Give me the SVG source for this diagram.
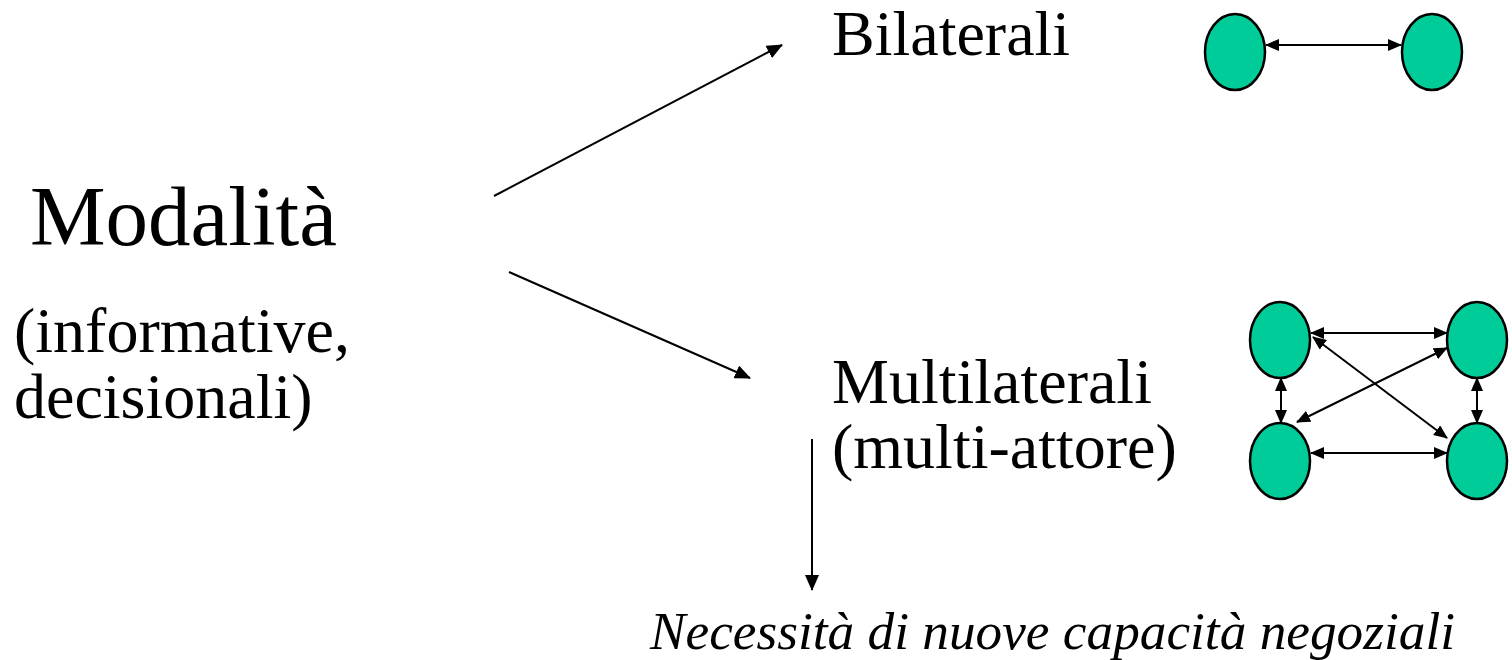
<svg xmlns="http://www.w3.org/2000/svg" width="1512" height="660" viewBox="0 0 1512 660">
<style>
text{font-family:'Liberation Serif','Times New Roman',serif;fill:#000}
.n{fill:#00CC99;stroke:#000;stroke-width:2.5}
.c{stroke:#000;stroke-width:2;fill:none}
</style>
<defs>
<marker id="ah" markerUnits="userSpaceOnUse" markerWidth="16" markerHeight="14" refX="15" refY="7" orient="auto-start-reverse" viewBox="0 0 16 14">
<path d="M0,0 L16,7 L0,14 Z" fill="#000"/>
</marker>
<marker id="sh" markerUnits="userSpaceOnUse" markerWidth="14" markerHeight="12" refX="13" refY="6" orient="auto-start-reverse" viewBox="0 0 14 12">
<path d="M0,0 L14,6 L0,12 Z" fill="#000"/>
</marker>
</defs>
<rect width="1512" height="660" fill="#fff"/>
<g id="modalita">
<text x="30" y="245" font-size="85">Modalità</text>
<text x="14" y="352" font-size="64">(informative,</text>
<text x="14" y="418" font-size="64">decisionali)</text>
</g>
<g id="bilaterali">
<text x="832" y="55" font-size="64">Bilaterali</text>
</g>
<g id="multilaterali">
<text x="832" y="403" font-size="64">Multilaterali</text>
<text x="832" y="468" font-size="64">(multi-attore)</text>
</g>
<g id="necessita">
<text x="650" y="649" font-size="52" font-style="italic" textLength="805" lengthAdjust="spacingAndGlyphs">Necessità di nuove capacità negoziali</text>
</g>
<g id="bi-nodes">
<ellipse class="n" cx="1235" cy="52" rx="30" ry="38"/>
<ellipse class="n" cx="1432" cy="52" rx="30" ry="38"/>
</g>
<g id="multi-nodes">
<ellipse class="n" cx="1280" cy="340" rx="30" ry="38"/>
<ellipse class="n" cx="1477" cy="340" rx="30" ry="38"/>
<ellipse class="n" cx="1280" cy="461" rx="30" ry="38"/>
<ellipse class="n" cx="1477" cy="461" rx="30" ry="38"/>
</g>
<g id="connectors">
<line class="c" x1="494" y1="196" x2="782" y2="45" marker-end="url(#ah)"/>
<line class="c" x1="509" y1="272" x2="750" y2="378" marker-end="url(#ah)"/>
<line class="c" x1="812" y1="439" x2="812" y2="590" marker-end="url(#ah)"/>
<line class="c" x1="1266" y1="45" x2="1401" y2="45" marker-start="url(#sh)" marker-end="url(#sh)"/>
<line class="c" x1="1311" y1="333" x2="1447" y2="333" marker-start="url(#sh)" marker-end="url(#sh)"/>
<line class="c" x1="1311" y1="453" x2="1447" y2="453" marker-start="url(#sh)" marker-end="url(#sh)"/>
<line class="c" x1="1281" y1="378" x2="1281" y2="423" marker-start="url(#sh)" marker-end="url(#sh)"/>
<line class="c" x1="1477" y1="378" x2="1477" y2="423" marker-start="url(#sh)" marker-end="url(#sh)"/>
<line class="c" x1="1313" y1="337" x2="1447" y2="438" marker-start="url(#sh)" marker-end="url(#sh)"/>
<line class="c" x1="1447" y1="348" x2="1297" y2="422" marker-start="url(#sh)" marker-end="url(#sh)"/>
</g>
</svg>
